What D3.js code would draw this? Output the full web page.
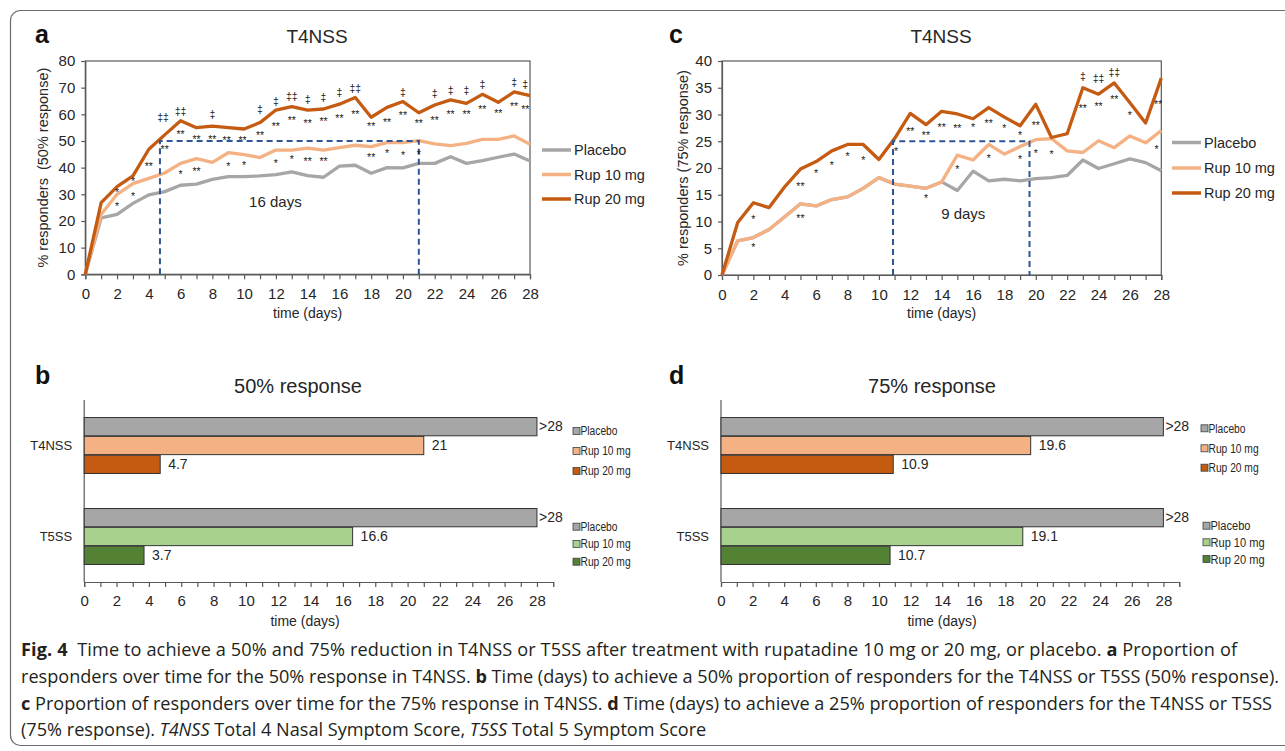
<!DOCTYPE html>
<html>
<head>
<meta charset="utf-8">
<script src="https://cdn.jsdelivr.net/npm/d3@7"></script>
<style>
  body { margin: 0; background: #fff; }
  svg { display: block; }
</style>
</head>
<body>
<svg id="fig" width="1285" height="751"></svg>
<script>
// ---- data ----
var seriesNames = ['Placebo', 'Rup 10 mg', 'Rup 20 mg'];
var groups = ['T4NSS', 'T5SS'];

// % responders per day (0..28), 50% response, T4NSS
var placebo50 = [0, 21.2, 22.5, 26.6, 29.8, 31, 33.4, 33.8, 35.6, 36.6, 36.6, 36.9, 37.4, 38.4, 37, 36.4, 40.6, 40.9, 37.9, 40, 39.9, 41.6, 41.6, 44.1, 41.6, 42.6, 43.9, 45.1, 42.5];
var rup10_50 = [0, 22.5, 30, 34, 36, 38, 41.6, 43.4, 42, 45.6, 44.9, 43.8, 46.6, 46.6, 47.3, 46.6, 47.5, 48.4, 47.9, 49.4, 49.4, 50.1, 48.9, 48.3, 49.1, 50.6, 50.6, 51.9, 48.8];
var rup20_50 = [0, 26.9, 32.9, 36.9, 46.9, 52.3, 57.6, 55, 55.6, 55, 54.5, 56.9, 61.6, 62.9, 61.6, 62, 63.8, 66.3, 58.9, 62.6, 64.8, 60.6, 63.5, 65.4, 64.1, 67.5, 64.5, 68.4, 67];

// % responders per day (0..28), 75% response, T4NSS
var placebo75 = [0, 6.4, 7, 8.5, 10.9, 13.3, 12.9, 14.1, 14.6, 16.2, 18.2, 17, 16.6, 16.2, 17.4, 15.8, 19.4, 17.6, 17.9, 17.6, 18, 18.2, 18.6, 21.5, 19.9, 20.8, 21.7, 21, 19.5];
var rup10_75 = [0, 6.4, 7, 8.5, 10.9, 13.3, 12.9, 14.1, 14.6, 16.2, 18.2, 17, 16.6, 16.2, 17.4, 22.4, 21.5, 24.4, 22.6, 24, 25.3, 25.5, 23.2, 22.9, 25.1, 23.8, 26, 24.7, 27];
var rup20_75 = [0, 9.8, 13.5, 12.6, 16.5, 19.8, 21.2, 23.2, 24.4, 24.4, 21.6, 25.5, 30.2, 28.1, 30.6, 30.1, 29.2, 31.3, 29.5, 27.9, 31.9, 25.7, 26.4, 35, 33.8, 35.9, 32.2, 28.4, 36.8];

// significance marks: [day, % level, symbol]
var marks50 = [
  [2, 26.2, '*'], [2, 31.6, '*'], [3, 30.1, '*'], [3, 35.7, '*'], [4, 41.2, '**'],
  [5, 47.6, '**'], [4.9, 58.6, '‡‡'], [6, 38.5, '*'], [6, 53.2, '**'], [6, 60.9, '‡‡'],
  [7, 39.4, '**'], [7, 51.4, '**'], [8, 51.6, '**'], [8, 59.7, '‡'], [9, 41.4, '*'],
  [8.9, 51, '**'], [10, 41.6, '*'], [9.9, 51, '**'], [11, 52.9, '**'], [11, 61.6, '‡'],
  [12, 42.6, '*'], [12, 56.2, '**'], [12, 64.5, '‡'], [13, 43.9, '*'], [13, 58.6, '**'],
  [13, 66.6, '‡‡'], [14, 43.4, '**'], [14, 57.5, '**'], [14, 65.2, '‡'], [15, 43.3, '**'],
  [15, 58.2, '**'], [15, 66, '‡'], [16, 59.5, '**'], [16, 67.9, '‡'], [17, 60.7, '**'],
  [17, 69.6, '‡‡'], [18, 44.6, '**'], [18, 56.4, '**'], [19, 46.3, '*'], [19, 57.9, '**'],
  [20, 45.6, '*'], [20, 60.4, '**'], [20, 68.1, '‡'], [21, 46, '*'], [21, 57.6, '**'],
  [22, 58.5, '**'], [22, 67.5, '‡'], [23, 60.9, '**'], [23, 68.8, '‡'], [24, 60.9, '**'],
  [24, 68.8, '‡'], [25, 62.7, '**'], [25, 71.1, '‡'], [26, 61.3, '**'], [27, 63.9, '**'],
  [27, 71.8, '‡'], [27.7, 62.7, '**'], [27.7, 71.1, '‡']
];
var marks75 = [
  [2, 5.6, '*'], [2, 10.8, '*'], [5, 11, '**'], [5, 17.1, '**'], [6, 19.5, '*'],
  [7, 21, '*'], [8, 22.6, '*'], [9, 21.9, '*'], [11.1, 23.6, '*'], [12, 27.2, '**'],
  [13, 14.8, '*'], [13, 26.6, '**'], [14, 28.1, '**'], [15, 20.1, '*'], [15, 27.9, '**'],
  [16, 28, '*'], [17, 22.2, '*'], [17, 28.8, '**'], [18, 27.8, '*'], [19, 22.1, '*'],
  [19, 26.5, '*'], [20, 28.5, '**'], [20, 23.2, '*'], [21, 23, '*'], [23, 31.6, '**'],
  [23, 37.1, '‡'], [24, 32, '**'], [24, 36.6, '‡‡'], [25, 33.3, '**'], [25, 37.7, '‡‡'],
  [26, 30.3, '*'], [27.8, 32.3, '**'], [27.7, 24, '*']
];

// days to reach 50% / 25% responders, order: Placebo, Rup 10, Rup 20
var t4nss50 = [28, 21, 4.7];
var t5ss50 = [28, 16.6, 3.7];
var t4nss75 = [28, 19.6, 10.9];
var t5ss75 = [28, 19.1, 10.7];

var lineColors = ['#A6A6A6', '#F4B183', '#C55A11'];
var t4Colors = ['#A6A6A6', '#F4B183', '#C55A11'];
var t5Colors = ['#A6A6A6', '#A9D18E', '#548235'];

var FONT = '"Liberation Sans", Arial, sans-serif';
var INK = '#262626';
var AXIS = '#595959';

var svg = d3.select('#fig');

// outer frame (right side runs off the page)
svg.append('rect')
    .attr('x', 10.5).attr('y', 10.5)
    .attr('width', 1320).attr('height', 735)
    .attr('rx', 10).attr('ry', 10)
    .attr('fill', 'none').attr('stroke', '#6b6b6b').attr('stroke-width', 1.2);

function styleAxis(g, size) {
    g.selectAll('path.domain').attr('stroke', AXIS).attr('stroke-width', 1.2);
    g.selectAll('.tick line').attr('stroke', AXIS).attr('stroke-width', 1.2);
    g.selectAll('.tick text').attr('fill', INK).style('font-family', FONT).style('font-size', size + 'px');
}

// ---- line panels ----
function linePanel(cfg) {
    var g = svg.append('g');
    var x = d3.scaleLinear().domain([0, 28]).range([cfg.left, cfg.right]);
    var y = d3.scaleLinear().domain([0, cfg.yMax]).range([cfg.bottom, cfg.top]);

    g.append('rect')
        .attr('x', cfg.left).attr('y', cfg.top)
        .attr('width', cfg.right - cfg.left).attr('height', cfg.bottom - cfg.top)
        .attr('fill', 'none').attr('stroke', AXIS).attr('stroke-width', 1.2);

    var xa = g.append('g').attr('transform', 'translate(0,' + cfg.bottom + ')')
        .call(d3.axisBottom(x).tickValues(d3.range(0, 29)).tickSize(5).tickPadding(9)
            .tickFormat(function (d) { return d % 2 === 0 ? d : ''; }));
    styleAxis(xa, 15);

    var ya = g.append('g').attr('transform', 'translate(' + cfg.left + ',0)')
        .call(d3.axisLeft(y).tickValues(d3.range(0, cfg.yMax + 1, cfg.yStep)).tickSize(4).tickPadding(6));
    styleAxis(ya, 15);

    var line = d3.line()
        .x(function (d, i) { return x(i); })
        .y(function (d) { return y(d); });

    cfg.series.forEach(function (s, i) {
        g.append('path')
            .attr('d', line(s))
            .attr('fill', 'none')
            .attr('stroke', lineColors[i])
            .attr('stroke-width', 3.3)
            .attr('stroke-linejoin', 'round');
    });

    // dashed guide to the threshold
    var d1 = cfg.cross[2], d2 = cfg.cross[1], lvl = cfg.level;
    g.append('path')
        .attr('d', 'M' + x(d1) + ',' + y(0) + 'V' + y(lvl) + 'H' + x(d2) + 'V' + y(0))
        .attr('fill', 'none')
        .attr('stroke', '#2F5597')
        .attr('stroke-width', 2)
        .attr('stroke-dasharray', '6,4');

    g.append('text')
        .attr('x', x((d1 + d2) / 2) + cfg.gapShift).attr('y', y(cfg.gapLevel))
        .attr('text-anchor', 'middle')
        .style('font-family', FONT).style('font-size', '15px').attr('fill', INK)
        .text(Math.round(d2 - d1) + ' days');

    g.selectAll('text.mark').data(cfg.marks).enter().append('text')
        .attr('class', 'mark')
        .attr('x', function (d) { return x(d[0]); })
        .attr('y', function (d) { return y(d[1]) + (d[2].charAt(0) === '*' ? 6 : 3); })
        .attr('text-anchor', 'middle')
        .style('font-family', FONT).style('font-size', '10.5px')
        .attr('fill', '#222')
        .text(function (d) { return d[2]; });

    // legend
    seriesNames.forEach(function (n, i) {
        var ly = cfg.legendY[i];
        g.append('line')
            .attr('x1', cfg.legendX).attr('x2', cfg.legendX + 29)
            .attr('y1', ly).attr('y2', ly)
            .attr('stroke', lineColors[i]).attr('stroke-width', 3.5);
        g.append('text')
            .attr('x', cfg.legendX + 32).attr('y', ly).attr('dy', '0.35em')
            .style('font-family', FONT).style('font-size', '14.5px').attr('fill', INK)
            .text(n);
    });

    g.append('text')
        .attr('x', cfg.letterX).attr('y', 43)
        .style('font-family', FONT).style('font-size', '25px').style('font-weight', 'bold')
        .attr('fill', '#111').text(cfg.letter);
    g.append('text')
        .attr('x', cfg.titleX).attr('y', 43).attr('text-anchor', 'middle')
        .style('font-family', FONT).style('font-size', '19px').attr('fill', INK)
        .text('T4NSS');
    g.append('text')
        .attr('x', (cfg.left + cfg.right) / 2).attr('y', 318).attr('text-anchor', 'middle')
        .style('font-family', FONT).style('font-size', '14px').attr('fill', INK)
        .text('time (days)');
    g.append('text')
        .attr('transform', 'translate(' + cfg.ylabelX + ',' + ((cfg.top + cfg.bottom) / 2) + ') rotate(-90)')
        .attr('text-anchor', 'middle').attr('dy', '0.35em')
        .style('font-family', FONT).style('font-size', '14.5px').style('white-space', 'pre')
        .attr('fill', INK)
        .text(cfg.ylabel);
}

linePanel({
    left: 85.3, right: 530, top: 61, bottom: 274.3, yMax: 80, yStep: 10,
    series: [placebo50, rup10_50, rup20_50], marks: marks50,
    cross: t4nss50, level: 50, gapLevel: 25.4, gapShift: -14,
    legendX: 542, legendY: [150, 174.5, 199],
    letter: 'a', letterX: 35, titleX: 317,
    ylabelX: 43, ylabel: '% responders  (50% response)'
});

linePanel({
    left: 722, right: 1161.3, top: 61, bottom: 275, yMax: 40, yStep: 5,
    series: [placebo75, rup10_75, rup20_75], marks: marks75,
    cross: t4nss75, level: 25, gapLevel: 10.4, gapShift: 2,
    legendX: 1172, legendY: [142.5, 168, 193],
    letter: 'c', letterX: 669, titleX: 941,
    ylabelX: 683, ylabel: '% responders (75% response)'
});

// ---- bar panels ----
function barPanel(cfg) {
    var g = svg.append('g');
    var x = d3.scaleLinear().domain([0, 29]).range([cfg.left, cfg.left + 29 * cfg.perDay]);
    var y = d3.scaleBand().domain(groups).range([400, 582]).paddingInner(0.385).paddingOuter(0.1925);
    var yi = d3.scaleBand().domain(seriesNames).range([0, y.bandwidth()]).paddingInner(0.03);

    var xa = g.append('g').attr('transform', 'translate(0,582)')
        .call(d3.axisBottom(x).tickValues(d3.range(0, 30)).tickSize(5).tickPadding(8)
            .tickFormat(function (d) { return d % 2 === 0 && d <= 28 ? d : ''; }));
    styleAxis(xa, 15);

    g.append('line')
        .attr('x1', x(0)).attr('x2', x(0)).attr('y1', 400).attr('y2', 582)
        .attr('stroke', AXIS).attr('stroke-width', 1.2);

    var sets = [
        { name: 'T4NSS', vals: cfg.t4, colors: t4Colors, legendY: cfg.legT4 },
        { name: 'T5SS', vals: cfg.t5, colors: t5Colors, legendY: cfg.legT5 }
    ];

    sets.forEach(function (s, k) {
        var y0 = y(s.name);
        g.selectAll('rect.b' + k).data(s.vals).enter().append('rect')
            .attr('class', 'b' + k)
            .attr('x', x(0))
            .attr('y', function (d, i) { return y0 + yi(seriesNames[i]); })
            .attr('width', function (d) { return x(d) - x(0); })
            .attr('height', yi.bandwidth())
            .attr('fill', function (d, i) { return s.colors[i]; })
            .attr('stroke', '#333').attr('stroke-width', 1);

        g.selectAll('text.v' + k).data(s.vals).enter().append('text')
            .attr('class', 'v' + k)
            .attr('x', function (d, i) { return x(d) + (i === 0 ? 2 : 8); })
            .attr('y', function (d, i) { return y0 + yi(seriesNames[i]) + yi.bandwidth() / 2 + (i === 0 ? -1 : 0); })
            .attr('dy', '0.35em')
            .style('font-family', FONT).style('font-size', '14px').attr('fill', INK)
            .text(function (d, i) { return i === 0 ? '>' + d : d; });

        g.append('text')
            .attr('x', x(0) - 12).attr('y', y0 + y.bandwidth() / 2).attr('dy', '0.35em')
            .attr('text-anchor', 'end')
            .style('font-family', FONT).style('font-size', '13px').attr('fill', INK)
            .text(s.name);

        seriesNames.forEach(function (n, i) {
            var ly = s.legendY[i];
            var lx = k === 0 ? cfg.legX4 : cfg.legX5;
            g.append('rect')
                .attr('x', lx).attr('y', ly - 3.5).attr('width', 7).attr('height', 7)
                .attr('fill', s.colors[i]).attr('stroke', '#404040').attr('stroke-width', 0.8);
            // narrow legend lettering: squeeze horizontally
            g.append('text')
                .attr('transform', 'translate(' + (lx + 7.5) + ',' + ly + ') scale(0.82,1)')
                .attr('dy', '0.35em')
                .style('font-family', FONT).style('font-size', (k === 0 ? cfg.legFont4 : cfg.legFont5) + 'px')
                .attr('fill', INK)
                .text(n);
        });
    });

    g.append('text')
        .attr('x', cfg.letterX).attr('y', 384)
        .style('font-family', FONT).style('font-size', '25px').style('font-weight', 'bold')
        .attr('fill', '#111').text(cfg.letter);
    g.append('text')
        .attr('x', cfg.titleX).attr('y', 393).attr('text-anchor', 'middle')
        .style('font-family', FONT).style('font-size', '20px').attr('fill', INK)
        .text(cfg.title);
    g.append('text')
        .attr('x', cfg.timeX).attr('y', 626).attr('text-anchor', 'middle')
        .style('font-family', FONT).style('font-size', '14px').attr('fill', INK)
        .text('time (days)');
}

barPanel({
    left: 84.2, perDay: 16.17, t4: t4nss50, t5: t5ss50,
    legX4: 573, legX5: 573, legT4: [431, 451, 471], legT5: [526.7, 544, 561.7],
    legFont4: 12.5, legFont5: 12.5,
    letter: 'b', letterX: 35, title: '50% response', titleX: 298, timeX: 305
});

barPanel({
    left: 721, perDay: 15.8, t4: t4nss75, t5: t5ss75,
    legX4: 1201, legX5: 1203, legT4: [428.3, 448.3, 467.7], legT5: [525.7, 542.3, 559],
    legFont4: 12.5, legFont5: 13.5,
    letter: 'd', letterX: 669, title: '75% response', titleX: 932, timeX: 942
});

// ---- caption ----
var CAP = '"Open Sans", "Noto Sans", sans-serif';
var capLines = [
    { y: 656, w: 1216, parts: [['b', 'Fig. 4'], ['', '  Time to achieve a 50% and 75% reduction in T4NSS or T5SS after treatment with rupatadine 10 mg or 20 mg, or placebo. '], ['b', 'a'], ['', ' Proportion of']] },
    { y: 683, w: 1258, parts: [['', 'responders over time for the 50% response in T4NSS. '], ['b', 'b'], ['', ' Time (days) to achieve a 50% proportion of responders for the T4NSS or T5SS (50% response).']] },
    { y: 709.5, w: 1251, parts: [['b', 'c'], ['', ' Proportion of responders over time for the 75% response in T4NSS. '], ['b', 'd'], ['', ' Time (days) to achieve a 25% proportion of responders for the T4NSS or T5SS']] },
    { y: 736, w: 0, parts: [['', '(75% response). '], ['i', 'T4NSS'], ['', ' Total 4 Nasal Symptom Score, '], ['i', 'T5SS'], ['', ' Total 5 Symptom Score']] }
];

var capTexts = capLines.map(function (l) {
    var t = svg.append('text')
        .attr('x', 21).attr('y', l.y)
        .style('font-family', CAP).style('font-size', '16px').style('white-space', 'pre')
        .attr('fill', '#231F20');
    l.parts.forEach(function (p) {
        t.append('tspan')
            .style('font-weight', p[0] === 'b' ? 'bold' : 'normal')
            .style('font-style', p[0] === 'i' ? 'italic' : 'normal')
            .text(p[1]);
    });
    return t;
});

// fit the font so the widest line spans the column, then justify the others
var natural = capTexts[1].node().getComputedTextLength();
var fs = 16 * capLines[1].w / natural;
capTexts.forEach(function (t, i) {
    t.style('font-size', fs.toFixed(2) + 'px');
    if (capLines[i].w) {
        t.attr('textLength', capLines[i].w).attr('lengthAdjust', 'spacing');
    }
});
</script>
</body>
</html>
